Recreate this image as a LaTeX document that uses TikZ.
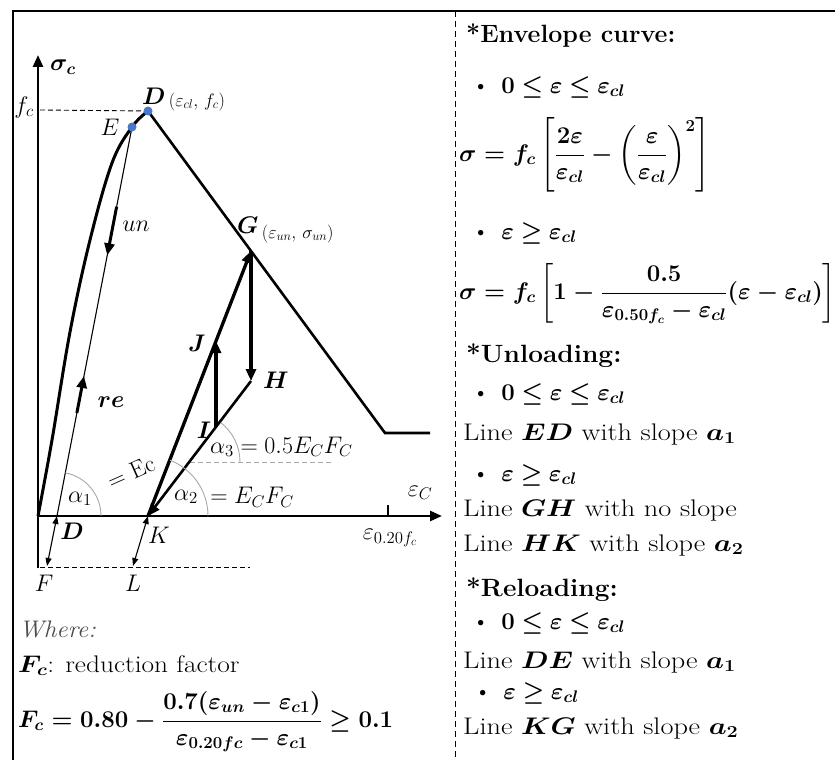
\RequirePackage{fix-cm}
\documentclass[tikz,border=0pt]{standalone}
\usepackage{amsmath,bm,graphicx}
\usetikzlibrary{arrows.meta,calc}
\definecolor{dotblue}{HTML}{4A78C8}
\definecolor{arcgray}{HTML}{A8A8A8}
\newcommand{\widetxt}[2][1.18]{\scalebox{#1}[1]{#2}}
\begin{document}
\begin{tikzpicture}[x=1pt,y=-1pt,
  every node/.style={inner sep=0pt,font=\fontsize{24}{28}\selectfont},
  heavy/.style={line width=3.3pt},
  medium/.style={line width=2.6pt},
  thinline/.style={line width=1.1pt},
  bigtip/.style={-{Triangle[length=12pt,width=10pt]}},
  dbltip/.style={{Triangle[length=8pt,width=6pt]}-{Triangle[length=8pt,width=6pt]}},
  anglearc/.style={arcgray,line width=0.9pt},
  guide/.style={black,line width=0.9pt,dash pattern=on 5pt off 3pt},
  gguide/.style={arcgray,line width=0.9pt,dash pattern=on 5pt off 3pt},
  pt/.style={circle,fill=dotblue,minimum size=9pt,inner sep=0pt},
  rtext/.style={anchor=base west},
  bmath/.style={anchor=base west,font=\fontsize{24}{28}\selectfont\boldmath},
  head/.style={anchor=base west,font=\fontsize{25}{29}\selectfont\bfseries},
  sublab/.style={anchor=base west,font=\fontsize{18}{21}\selectfont}
]
\useasboundingbox (0,0) rectangle (835,760);
% frame
\coordinate (fTL) at (13,11);
\coordinate (fTR) at (835,11);
\coordinate (fBL) at (13,760);
\coordinate (sepT) at (455,11);
\coordinate (sepB) at (455,760);
\draw[line width=1.8pt] (fBL) -- (fTL) -- (fTR);
\draw[line width=0.9pt,dash pattern=on 6pt off 4pt] (sepT) -- (sepB);

% key points
\coordinate (O) at (38,516);
\coordinate (Ytop) at (38,55);
\coordinate (Ybot) at (38,568);
\coordinate (Xend) at (442,516);
\coordinate (Dp) at (148,111);
\coordinate (E) at (132,127);
\coordinate (G) at (251,251);
\coordinate (H) at (251,381);
\coordinate (K) at (148,516);
\coordinate (I) at (216,427);
\coordinate (J) at (216,341);
\coordinate (Knee) at (385,433);
\coordinate (Tail) at (430,433);
\coordinate (Dax) at (57,516);
\coordinate (F) at (47,566);
\coordinate (L) at (133,566);
\coordinate (fcy) at (40,110);
\coordinate (dashF) at (40,567);
\coordinate (dashE) at (250,567);
\coordinate (tickB) at (388,516);
\coordinate (tickT) at (388,505);
\coordinate (A3) at (190,462);
\coordinate (A3e) at (333,462);

% axes
\draw[line width=2.6pt,-{Triangle[length=12pt,width=10pt]}] (Ybot) -- (Ytop);
\draw[line width=2.6pt,-{Triangle[length=12pt,width=10pt]}] (O) -- (Xend);
\draw[line width=1.2pt] (tickB) -- (tickT);

% guides
\draw[guide] (fcy) -- (Dp);
\draw[guide] (dashF) -- (dashE);
\draw[gguide] (A3) -- (A3e);

% envelope
\draw[line width=3pt] plot[smooth,tension=0.6] coordinates {(38,516) (52,440) (70,332) (90,240) (112,163) (132,127) (148,111)};
\draw[medium] (Dp) -- (G) -- (Knee) -- (Tail);

% unloading / reloading near origin
\draw[thinline] (E) -- (Dax);
\draw[line width=3pt,bigtip] ($(E)!0.205!(Dax)$) -- ($(E)!0.33!(Dax)$);
\draw[line width=3pt,bigtip] ($(E)!0.735!(Dax)$) -- ($(E)!0.64!(Dax)$);

% cycle at G
\draw[heavy,bigtip] (K) -- (G);
\draw[heavy,bigtip] (G) -- (H);
\draw[medium,bigtip] (H) -- (K);
\draw[heavy,bigtip] (I) -- (J);

% double arrows
\draw[thinline,dbltip] (Dax) -- (F);
\draw[thinline,dbltip] (K) -- (L);

% angle arcs
\draw[anglearc] ($(Dax)+(44,0)$) arc[start angle=0,end angle=79,radius=44pt];
\draw[anglearc] ($(K)+(60,0)$) arc[start angle=0,end angle=68.6,radius=60pt];
\draw[anglearc] ($(A3)+(50,0)$) arc[start angle=0,end angle=52,radius=50pt];

% dots
\node[pt] (dotD) at (Dp) {};
\node[pt] (dotE) at (E) {};

% graph labels
\node (sig) at (63,67) {$\bm{\sigma_c}$};
\node (fc) at (24,107) {$f_c$};
\node[anchor=base west] (Dlab) at (142,104) {$\bm{D}$};
\node[sublab] (Dsub) at ([yshift=-2pt]Dlab.base east) {$\,(\varepsilon_{cl},\,f_c)$};
\node (Elab) at (110,127) {$E$};
\node[anchor=base west] (Glab) at (237,233) {$\bm{G}$};
\node[sublab] (Gsub) at ([yshift=-5pt]Glab.base east) {$\,(\varepsilon_{un},\,\sigma_{un})$};
\node (un) at (136,226) {$un$};
\node (re) at (111,402) {$\bm{re}$};
\node (Jlab) at (197,343) {$\bm{J}$};
\node (Hlab) at (276,380) {$\bm{H}$};
\node (Ilab) at (204,430) {$\bm{I}$};
\node[anchor=base west] (a3) at (210,453) {$\alpha_3 = 0.5E_CF_C$};
\node (a1) at (80,499) {$\alpha_1$};
\node[rotate=24] (ec) at (131,472) {$=$ Ec};
\node (a2) at (186,497) {$\alpha_2$};
\node (a2e) at (252,497) {$= E_CF_C$};
\node (epsC) at (420,493) {$\varepsilon_C$};
\node (eps20) at (390,538) {$\varepsilon_{0.20f_c}$};
\node (Daxlab) at (72,531) {$\bm{D}$};
\node (Klab) at (159,535) {$K$};
\node (Flab) at (44,583) {$F$};
\node (Llab) at (133,583) {$L$};

% bottom-left text
\node[rtext,text=black!70] (where) at (19,637) {\widetxt[1.05]{\itshape Where:}};
\node[rtext] (fcdef) at (18,672) {\widetxt[1.14]{$\bm{F_c}$: reduction factor}};

% right column
\node[head] (env) at (466,43) {*Envelope curve:};
\node[rtext] (b1) at (472,93) {\textbullet\hspace{12pt}$\bm{0\leq\varepsilon\leq\varepsilon_{cl}}$};
\node[rtext] (b2) at (472,239) {\textbullet\hspace{12pt}$\bm{\varepsilon\geq\varepsilon_{cl}}$};
\node[head] (unl) at (466,362) {\widetxt[1.05]{*Unloading:}};
\node[rtext] (b3) at (472,400) {\textbullet\hspace{12pt}$\bm{0\leq\varepsilon\leq\varepsilon_{cl}}$};
\node[rtext] (l1) at (463,440) {\widetxt{Line $\bm{ED}$ with slope $\bm{a_1}$}};
\node[rtext] (b4) at (472,481) {\textbullet\hspace{12pt}$\bm{\varepsilon\geq\varepsilon_{cl}}$};
\node[rtext] (l2) at (463,516) {\widetxt{Line $\bm{GH}$ with no slope}};
\node[rtext] (l3) at (463,551) {\widetxt{Line $\bm{HK}$ with slope $\bm{a_2}$}};
\node[head] (rel) at (466,596) {\widetxt[1.05]{*Reloading:}};
\node[rtext] (b5) at (472,629) {\textbullet\hspace{12pt}$\bm{0\leq\varepsilon\leq\varepsilon_{cl}}$};
\node[rtext] (l4) at (463,668) {\widetxt{Line $\bm{DE}$ with slope $\bm{a_1}$}};
\node[rtext] (b6) at (474,699) {\textbullet\hspace{12pt}$\bm{\varepsilon\geq\varepsilon_{cl}}$};
\node[rtext] (l5) at (463,734) {\widetxt{Line $\bm{KG}$ with slope $\bm{a_2}$}};

% formulas
\node[bmath] (eq1) at (459,161) {$\displaystyle\sigma = f_c\left[\frac{2\varepsilon}{\varepsilon_{cl}} - \left(\frac{\varepsilon}{\varepsilon_{cl}}\right)^{2}\right]$};
\node[bmath] (eq2) at (459,299) {$\displaystyle\sigma = f_c\left[1 - \frac{0.5}{\varepsilon_{0.50f_c}-\varepsilon_{cl}}(\varepsilon-\varepsilon_{cl})\right]$};
\node[bmath] (fceq) at (18,727) {$\displaystyle F_c = 0.80 - \frac{0.7(\varepsilon_{un}-\varepsilon_{c1})}{\varepsilon_{0.20fc}-\varepsilon_{c1}} \geq 0.1$};
\end{tikzpicture}
\end{document}
